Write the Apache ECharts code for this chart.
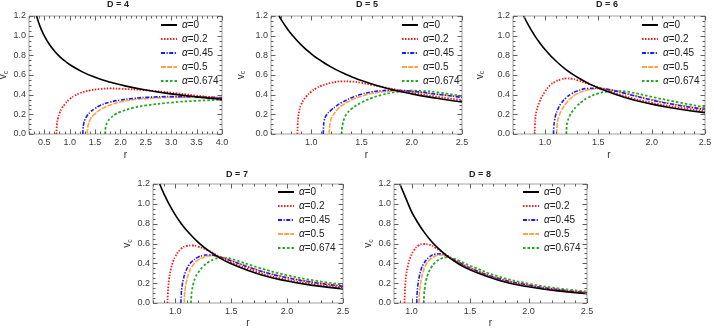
<!DOCTYPE html>
<html>
<head>
<meta charset="utf-8">
<script src="https://cdn.jsdelivr.net/npm/echarts@6/dist/echarts.min.js"></script>
<style>
html, body { margin: 0; padding: 0; background: #fff; }
#chart { width: 714px; height: 331px; }
</style>
</head>
<body>
<div id="chart"></div>
<script>
// curve labels and panel parameters
const alphaNames = ['α=0', 'α=0.2', 'α=0.45', 'α=0.5', 'α=0.674'];
const dims = [4, 5, 6, 7, 8];
const xMins = [0.2, 0.6, 0.7, 0.8, 0.85];
const xMaxs = [4.0, 2.5, 2.5, 2.5, 2.5];
const xTicksD4 = [0.5, 1.0, 1.5, 2.0, 2.5, 3.0, 3.5, 4.0];
const xTicksHigh = [1.0, 1.5, 2.0, 2.5];
const yTicks = [0, 0.2, 0.4, 0.6, 0.8, 1.0, 1.2];

// D = 4  [r, v_c]
const d4_a0 = [[0.35,1.2],[0.4,1.118],[0.45,1.054],[0.5,1.0],[0.6,0.913],[0.7,0.845],[0.8,0.79],[0.9,0.745],[1.0,0.707],[1.25,0.632],[1.5,0.577],[1.75,0.535],[2.0,0.5],[2.5,0.447],[3.0,0.408],[3.5,0.378],[4.0,0.354]];
const d4_a02 = [[0.74,0],[0.745,0.06],[0.75,0.1],[0.77,0.16],[0.8,0.21],[0.85,0.265],[0.9,0.3],[1.0,0.355],[1.1,0.39],[1.2,0.415],[1.4,0.443],[1.6,0.458],[1.8,0.463],[2.0,0.46],[2.5,0.445],[3.0,0.42],[3.5,0.39],[4.0,0.362]];
const d4_a045 = [[1.26,0],[1.265,0.06],[1.28,0.11],[1.3,0.145],[1.35,0.19],[1.4,0.22],[1.5,0.26],[1.6,0.29],[1.8,0.325],[2.0,0.345],[2.25,0.362],[2.5,0.372],[3.0,0.38],[3.5,0.378],[4.0,0.37]];
const d4_a05 = [[1.35,0],[1.355,0.06],[1.37,0.1],[1.4,0.14],[1.45,0.18],[1.5,0.205],[1.6,0.245],[1.8,0.295],[2.0,0.325],[2.25,0.348],[2.5,0.36],[3.0,0.372],[3.5,0.372],[4.0,0.365]];
const d4_a0674 = [[1.7,0],[1.705,0.05],[1.72,0.09],[1.75,0.125],[1.8,0.16],[1.9,0.2],[2.0,0.225],[2.25,0.265],[2.5,0.29],[3.0,0.32],[3.5,0.338],[4.0,0.348]];

// D = 5
const d5_a0 = [[0.68,1.2],[0.7,1.166],[0.75,1.088],[0.8,1.02],[0.9,0.907],[1.0,0.816],[1.1,0.742],[1.2,0.68],[1.3,0.628],[1.4,0.583],[1.5,0.544],[1.75,0.466],[2.0,0.408],[2.25,0.363],[2.5,0.326]];
const d5_a02 = [[0.863,0],[0.866,0.1],[0.87,0.16],[0.88,0.23],[0.9,0.3],[0.95,0.38],[1.0,0.43],[1.05,0.465],[1.1,0.49],[1.2,0.52],[1.3,0.535],[1.4,0.533],[1.5,0.52],[1.6,0.5],[1.75,0.47],[2.0,0.42],[2.25,0.38],[2.5,0.345]];
const d5_a045 = [[1.12,0],[1.123,0.08],[1.13,0.14],[1.15,0.19],[1.2,0.245],[1.25,0.285],[1.3,0.318],[1.4,0.368],[1.5,0.405],[1.6,0.428],[1.7,0.44],[1.8,0.445],[2.0,0.435],[2.25,0.405],[2.5,0.372]];
const d5_a05 = [[1.18,0],[1.183,0.07],[1.19,0.12],[1.2,0.16],[1.25,0.235],[1.3,0.285],[1.4,0.345],[1.5,0.385],[1.6,0.412],[1.7,0.428],[1.8,0.436],[2.0,0.43],[2.25,0.405],[2.5,0.375]];
const d5_a0674 = [[1.303,0],[1.306,0.06],[1.315,0.11],[1.33,0.16],[1.35,0.2],[1.4,0.255],[1.5,0.32],[1.6,0.365],[1.7,0.397],[1.8,0.42],[1.9,0.434],[2.0,0.44],[2.1,0.438],[2.25,0.425],[2.5,0.385]];

// D = 6
const d6_a0 = [[0.8,1.2],[0.85,1.096],[0.9,1.006],[0.95,0.928],[1.0,0.86],[1.1,0.745],[1.2,0.653],[1.3,0.58],[1.4,0.519],[1.5,0.468],[1.75,0.371],[2.0,0.304],[2.25,0.255],[2.5,0.217]];
const d6_a02 = [[0.903,0],[0.906,0.1],[0.91,0.16],[0.92,0.23],[0.95,0.33],[1.0,0.43],[1.05,0.497],[1.1,0.535],[1.15,0.555],[1.2,0.565],[1.25,0.562],[1.3,0.548],[1.4,0.512],[1.5,0.475],[1.75,0.385],[2.0,0.318],[2.25,0.27],[2.5,0.233]];
const d6_a045 = [[1.08,0],[1.083,0.08],[1.09,0.14],[1.1,0.19],[1.12,0.25],[1.15,0.31],[1.2,0.37],[1.25,0.41],[1.3,0.437],[1.4,0.463],[1.5,0.466],[1.6,0.452],[1.75,0.413],[2.0,0.345],[2.25,0.292],[2.5,0.25]];
const d6_a05 = [[1.11,0],[1.113,0.08],[1.12,0.14],[1.13,0.18],[1.15,0.23],[1.2,0.315],[1.25,0.37],[1.3,0.408],[1.4,0.447],[1.5,0.46],[1.6,0.452],[1.75,0.416],[2.0,0.35],[2.25,0.296],[2.5,0.255]];
const d6_a0674 = [[1.2,0],[1.203,0.07],[1.21,0.12],[1.23,0.18],[1.25,0.22],[1.3,0.285],[1.35,0.332],[1.4,0.368],[1.5,0.413],[1.6,0.433],[1.7,0.437],[1.8,0.425],[2.0,0.378],[2.25,0.322],[2.5,0.272]];

// D = 7
const d7_a0 = [[0.86,1.2],[0.9,1.096],[0.95,0.984],[1.0,0.888],[1.05,0.805],[1.1,0.734],[1.2,0.617],[1.3,0.525],[1.4,0.453],[1.5,0.395],[1.75,0.29],[2.0,0.222],[2.25,0.175],[2.5,0.142]];
const d7_a02 = [[0.93,0],[0.933,0.1],[0.937,0.17],[0.945,0.25],[0.96,0.34],[0.98,0.42],[1.0,0.47],[1.05,0.545],[1.1,0.575],[1.15,0.58],[1.2,0.57],[1.3,0.525],[1.4,0.465],[1.5,0.41],[1.75,0.305],[2.0,0.235],[2.25,0.19],[2.5,0.157]];
const d7_a045 = [[1.05,0],[1.053,0.09],[1.058,0.15],[1.07,0.23],[1.09,0.31],[1.12,0.38],[1.15,0.42],[1.2,0.46],[1.25,0.48],[1.3,0.486],[1.35,0.48],[1.4,0.465],[1.5,0.425],[1.75,0.326],[2.0,0.255],[2.25,0.205],[2.5,0.168]];
const d7_a05 = [[1.08,0],[1.083,0.09],[1.088,0.14],[1.1,0.22],[1.12,0.3],[1.15,0.37],[1.2,0.43],[1.25,0.46],[1.3,0.475],[1.35,0.476],[1.4,0.466],[1.5,0.43],[1.75,0.33],[2.0,0.26],[2.25,0.21],[2.5,0.174]];
const d7_a0674 = [[1.14,0],[1.143,0.07],[1.148,0.12],[1.16,0.19],[1.18,0.26],[1.2,0.3],[1.25,0.37],[1.3,0.415],[1.35,0.442],[1.4,0.455],[1.45,0.455],[1.5,0.446],[1.75,0.355],[2.0,0.28],[2.25,0.226],[2.5,0.185]];

// D = 8
const d8_a0 = [[0.9,1.2],[0.95,1.06],[1.0,0.922],[1.05,0.817],[1.1,0.727],[1.15,0.65],[1.2,0.584],[1.3,0.478],[1.4,0.396],[1.5,0.334],[1.75,0.227],[2.0,0.163],[2.25,0.122],[2.5,0.093]];
const d8_a02 = [[0.94,0],[0.943,0.12],[0.947,0.2],[0.955,0.29],[0.97,0.38],[0.99,0.46],[1.02,0.53],[1.06,0.58],[1.1,0.595],[1.15,0.588],[1.2,0.56],[1.3,0.482],[1.4,0.405],[1.5,0.345],[1.75,0.235],[2.0,0.17],[2.25,0.129],[2.5,0.1]];
const d8_a045 = [[1.045,0],[1.048,0.1],[1.053,0.17],[1.065,0.26],[1.08,0.33],[1.1,0.39],[1.15,0.46],[1.2,0.492],[1.25,0.496],[1.3,0.476],[1.4,0.412],[1.5,0.352],[1.75,0.245],[2.0,0.18],[2.25,0.135],[2.5,0.104]];
const d8_a05 = [[1.065,0],[1.068,0.1],[1.073,0.16],[1.085,0.25],[1.1,0.32],[1.12,0.38],[1.15,0.43],[1.2,0.472],[1.25,0.484],[1.3,0.47],[1.4,0.412],[1.5,0.355],[1.75,0.248],[2.0,0.183],[2.25,0.138],[2.5,0.107]];
const d8_a0674 = [[1.105,0],[1.108,0.09],[1.113,0.15],[1.125,0.23],[1.14,0.29],[1.17,0.36],[1.2,0.405],[1.25,0.445],[1.3,0.46],[1.35,0.452],[1.4,0.428],[1.5,0.376],[1.75,0.265],[2.0,0.195],[2.25,0.148],[2.5,0.116]];

const panelCurves = [
    [d4_a0, d4_a02, d4_a045, d4_a05, d4_a0674],
    [d5_a0, d5_a02, d5_a045, d5_a05, d5_a0674],
    [d6_a0, d6_a02, d6_a045, d6_a05, d6_a0674],
    [d7_a0, d7_a02, d7_a045, d7_a05, d7_a0674],
    [d8_a0, d8_a02, d8_a045, d8_a05, d8_a0674]
];
const panelXTicks = [xTicksD4, xTicksHigh, xTicksHigh, xTicksHigh, xTicksHigh];

// layout
const boxes = [
    { left: 29, top: 16, width: 193, height: 118 },
    { left: 271, top: 16, width: 191, height: 118 },
    { left: 513, top: 16, width: 192, height: 118 },
    { left: 153, top: 184, width: 190, height: 119 },
    { left: 394, top: 184, width: 193, height: 119 }
];
const titlePos = [[118, 5], [367, 5], [607, 5], [237, 175], [480, 175]];
const legendPos = [[160, 20], [401, 20], [641, 20], [277, 187], [522, 187]];
const yNameGaps = [17, 24, 27, 19, 19];
const xNameGaps = [16, 16, 16, 15, 15];

const lineStyles = [
    { color: '#000000', width: 1.6, type: 'solid' },
    { color: '#ff1a1a', width: 1.8, type: [1.5, 1.5] },
    { color: '#1a1aff', width: 1.6, type: [4, 1.5, 1.2, 1.5] },
    { color: '#ffa347', width: 1.6, type: [5, 1.2] },
    { color: '#22aa22', width: 1.8, type: [2.5, 2] }
];

const frameColor = '#a0a0a0';
const tickColor = '#606060';
const labelColor = '#3a3a3a';
const fontFamily = 'Liberation Sans, Arial, sans-serif';

function stepValues(from, to, step) {
    const out = [];
    const n = Math.round((to - from) / step);
    for (let k = 0; k <= n; k++) out.push(+(from + k * step).toFixed(3));
    return out;
}

const grids = [], xAxes = [], yAxes = [], series = [], legends = [];

boxes.forEach((b, i) => {
    grids.push({ left: b.left, top: b.top, width: b.width, height: b.height,
        containLabel: false, outerBoundsMode: 'none',
        show: true, borderColor: frameColor, borderWidth: 1, backgroundColor: 'transparent' });
    const xt = panelXTicks[i];

    xAxes.push({
        type: 'value', gridIndex: i, min: xMins[i], max: xMaxs[i], position: 'bottom',
        splitLine: { show: false }, axisLine: { show: false }, axisTick: { show: false },
        axisLabel: { customValues: xt, formatter: v => v.toFixed(1), fontSize: 9,
            color: labelColor, margin: 4, fontFamily },
        name: 'r', nameLocation: 'middle', nameGap: xNameGaps[i],
        nameTextStyle: { fontSize: 10, color: '#333', fontFamily }
    });
    yAxes.push({
        type: 'value', gridIndex: i, min: 0, max: 1.2, position: 'left',
        splitLine: { show: false }, axisLine: { show: false }, axisTick: { show: false },
        axisLabel: { customValues: yTicks, formatter: v => v.toFixed(1), fontSize: 9,
            color: labelColor, margin: 3, fontFamily },
        name: '{v|v}{c|c}', nameLocation: 'middle', nameGap: yNameGaps[i],
        nameTextStyle: { color: '#333', fontFamily,
            rich: { v: { fontSize: 10, color: '#333' },
                    c: { fontSize: 7, color: '#333', padding: [5, 0, 0, 0] } } }
    });

    panelCurves[i].forEach((data, j) => {
        series.push({
            type: 'line', name: alphaNames[j], xAxisIndex: i, yAxisIndex: i,
            data: data, symbol: 'none', showSymbol: false, smooth: 0.5,
            lineStyle: lineStyles[j], itemStyle: { color: lineStyles[j].color },
            z: 5 - j, silent: true, animation: false
        });
    });

    legends.push({
        data: alphaNames, orient: 'vertical', left: legendPos[i][0], top: legendPos[i][1],
        itemWidth: 16, itemHeight: 12, itemGap: 4, padding: 0, selectedMode: false,
        itemStyle: { opacity: 0 },
        formatter: n => '{a|α}' + n.slice(1),
        textStyle: { fontSize: 10, color: '#222', fontFamily,
            rich: { a: { fontSize: 10, fontStyle: 'italic', color: '#222', fontFamily } } }
    });
});

const chart = echarts.init(document.getElementById('chart'), null, { renderer: 'canvas' });
chart.setOption({
    animation: false,
    backgroundColor: '#ffffff',
    grid: grids,
    xAxis: xAxes,
    yAxis: yAxes,
    legend: legends,
    series: series
});

// titles and frame ticks on all four sides, ticks placed through the axis scales
const elements = [];
boxes.forEach((b, i) => {
    elements.push({
        type: 'text', x: titlePos[i][0], y: titlePos[i][1],
        style: { text: 'D = ' + dims[i], fontSize: 9, fontWeight: 'bold', fill: '#222',
            font: 'bold 9px ' + fontFamily, align: 'center', verticalAlign: 'middle' }
    });
});
function tickLine(x1, y1, x2, y2) {
    elements.push({ type: 'line', silent: true, z: 100,
        shape: { x1: x1, y1: y1, x2: x2, y2: y2 },
        style: { stroke: tickColor, lineWidth: 1 } });
}
boxes.forEach((b, i) => {
    const bottom = b.top + b.height, right = b.left + b.width;
    const xMinor = stepValues(Math.ceil(xMins[i] * 10 - 1e-6) / 10, xMaxs[i], 0.1);
    const yMinor = stepValues(0, 1.2, 0.05);
    const addX = (v, len) => {
        const px = Math.round(chart.convertToPixel({ xAxisIndex: i }, v)) + 0.5;
        tickLine(px, bottom, px, bottom - len);
        tickLine(px, b.top, px, b.top + len);
    };
    const addY = (v, len) => {
        const py = Math.round(chart.convertToPixel({ yAxisIndex: i }, v)) + 0.5;
        tickLine(b.left, py, b.left + len, py);
        tickLine(right, py, right - len, py);
    };
    xMinor.forEach(v => addX(v, 2.5));
    panelXTicks[i].forEach(v => addX(v, 4.5));
    yMinor.forEach(v => addY(v, 2.5));
    yTicks.forEach(v => addY(v, 4.5));
});
chart.setOption({ graphic: { elements: elements } });
</script>
</body>
</html>
